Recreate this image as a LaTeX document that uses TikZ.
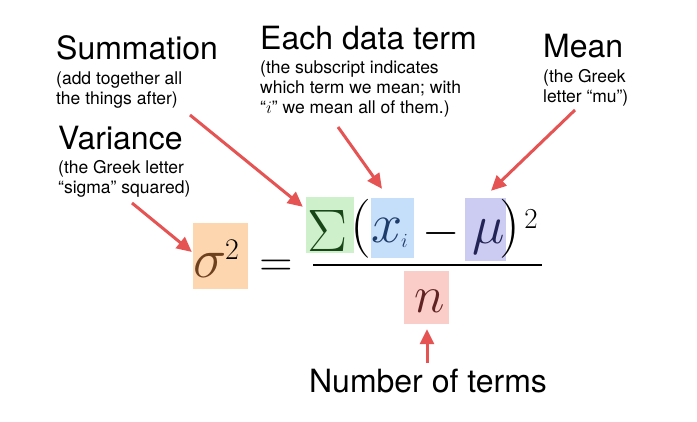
\RequirePackage{fix-cm}
\documentclass[tikz,border=0pt]{standalone}
\usepackage{fontspec}
\newfontfamily\labelfont{TeX Gyre Heros}
\usetikzlibrary{arrows.meta,positioning,calc}
\definecolor{arrowred}{RGB}{229,83,83}
\definecolor{varfill}{RGB}{253,214,176}
\definecolor{sumfill}{RGB}{206,240,202}
\definecolor{xfill}{RGB}{197,222,250}
\definecolor{mufill}{RGB}{204,204,242}
\definecolor{nfill}{RGB}{251,205,200}
\definecolor{varink}{RGB}{110,65,30}
\definecolor{sumink}{RGB}{25,70,25}
\definecolor{xink}{RGB}{30,60,105}
\definecolor{muink}{RGB}{35,35,85}
\definecolor{nink}{RGB}{95,35,35}

\begin{document}
\begin{tikzpicture}[
    x=1pt, y=-1pt,
    title/.style={inner sep=0, font=\labelfont\fontsize{32}{35}\selectfont},
    note/.style={inner sep=0, align=left, font=\labelfont\fontsize{17.5}{20}\selectfont},
    hl/.style={rectangle, inner sep=0, draw=none},
    glyph/.style={inner sep=0},
    pointer/.style={draw=arrowred, line width=3pt, -{Triangle[length=15pt,width=14pt]}}
]
    \useasboundingbox[fill=white] (0,0) rectangle (697,422);

    % Highlight boxes
    \node[hl, fill=varfill, minimum width=55, minimum height=66] (varbox) at (220.5,256) {};
    \node[hl, fill=sumfill, minimum width=48, minimum height=56] (sumbox) at (330,225) {};
    \node[hl, fill=xfill, minimum width=43, minimum height=60] (xbox) at (392.5,228) {};
    \node[hl, fill=mufill, minimum width=41, minimum height=63] (mubox) at (485.5,229.5) {};
    \node[hl, fill=nfill, minimum width=45, minimum height=53] (nbox) at (426.5,297.5) {};

    % Formula
    \node[glyph, anchor=base west, text=varink, font=\fontsize{56}{60}\selectfont] (sigma) at (193,278) {$\sigma$};
    \node[glyph, font=\fontsize{30}{34}\selectfont] (sq1) at (232,249.5) {$2$};
    \node[glyph, font=\fontsize{46}{50}\selectfont] (eq) at (276,268.5) {$=$};
    \node[glyph, anchor=base west, text=sumink, font=\fontsize{60}{64}\selectfont] (Sig) at (307,252) {$\Sigma$};
    \node[glyph, font=\fontsize{59}{64}\selectfont] (lpar) at (361,228.5) {$($};
    \node[glyph, anchor=base west, text=xink, font=\fontsize{56}{60}\selectfont] (xterm) at (371,243) {$x$};
    \node[glyph, anchor=base west, text=xink, font=\fontsize{20}{24}\selectfont] (isub) at (401,248) {$i$};
    \node[glyph, font=\fontsize{48}{52}\selectfont] (minus) at (441,234) {$-$};
    \node[glyph, anchor=base west, text=muink, font=\fontsize{55}{60}\selectfont] (mu) at (472,244) {$\mu$};
    \node[glyph, font=\fontsize{59}{64}\selectfont] (rpar) at (510,229) {$)$};
    \node[glyph, font=\fontsize{29}{32}\selectfont] (sq2) at (531,219) {$2$};
    \node[glyph, anchor=base west, text=nink, font=\fontsize{52}{56}\selectfont] (nterm) at (414,313) {$n$};
    \draw[line width=1.8pt] (313,265) -- (542,265);

    % Labels (notes are anchored on their last line)
    \node[title, anchor=base west] (summ) at (56,60) {Summation};
    \node[note, anchor=base west] (summnote) at (56,105) {(add together all\\the things after)};
    \node[title, anchor=base west] (var) at (58,150) {Variance};
    \node[note, anchor=base west] (varnote) at (58,194) {(the Greek letter\\“sigma” squared)};
    \node[title, anchor=base west] (data) at (260,50) {Each data term};
    \node[note, anchor=base west] (datanote) at (260,114) {(the subscript indicates\\which term we mean; with\\“$i$” we mean all of them.)};
    \node[title, anchor=base west] (mean) at (543,58) {Mean};
    \node[note, anchor=base west] (meannote) at (543,103) {(the Greek\\letter “mu”)};
    \node[title, anchor=base] (count) at (428,392) {Number of terms};

    % Arrows
    \coordinate (summtail) at (190,115);
    \coordinate (vartail) at (132,203);
    \coordinate (datatail) at (338,127);
    \coordinate (meantail) at (575,110);
    \coordinate (counttail) at (427,363);
    \draw[pointer] (summtail) -- ($(sumbox.north west)+(-3,10)$);
    \draw[pointer] (vartail) -- ($(varbox.west)+(-1,-4)$);
    \draw[pointer] (datatail) -- ($(xbox.north)+(-10.5,-9)$);
    \draw[pointer] (meantail) -- ($(mubox.north)+(5.5,-7)$);
    \draw[pointer] (counttail) -- ($(nbox.south)+(0.5,5)$);
\end{tikzpicture}
\end{document}
